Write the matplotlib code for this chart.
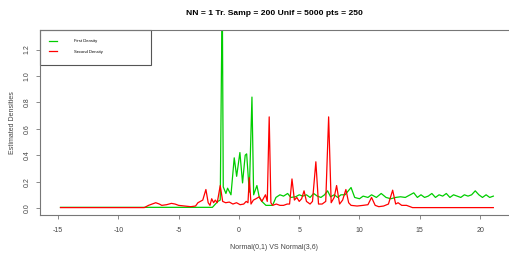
#Density comparison plot.

#Importing packages to use required functions.
import matplotlib
matplotlib.use("Agg")
import matplotlib.pyplot as plt
from matplotlib.patches import Rectangle

#Selecting the font to be used in the figure.
font = {'family': 'Liberation Sans',
        'weight': 'normal',
        'size': 5}
matplotlib.rc('font', **font)

#Points of the first density (green).
first_x = [-14.8, -2.2, -1.75, -1.55, -1.45, -1.38, -1.3, -1.08, -0.94, -0.66,
           -0.39, -0.19, 0.08, 0.3, 0.52, 0.64, 0.86, 0.94, 1.08, 1.22,
           1.49, 1.69, 1.9, 2.24, 2.79, 3.07, 3.4, 3.7, 4.04, 4.3,
           4.7, 5.0, 5.3, 5.6, 5.9, 6.2, 6.5, 6.8, 7.1, 7.35,
           7.6, 7.9, 8.2, 8.46, 8.8, 9.3, 9.6, 10.0, 10.3, 10.7,
           11.0, 11.4, 11.8, 12.2, 12.6, 13.0, 13.4, 13.8, 14.2, 14.5,
           14.8, 15.1, 15.4, 15.7, 16.0, 16.3, 16.6, 16.9, 17.2, 17.5,
           17.8, 18.1, 18.4, 18.7, 19.0, 19.3, 19.6, 19.9, 20.2, 20.5,
           20.8, 21.1]
first_y = [0.005, 0.005, 0.05, 0.06, 1.05, 1.6, 0.16, 0.11, 0.15, 0.10,
           0.38, 0.24, 0.42, 0.19, 0.40, 0.41, 0.12, 0.38, 0.84, 0.10,
           0.17, 0.08, 0.05, 0.02, 0.02, 0.08, 0.10, 0.09, 0.11, 0.08,
           0.085, 0.10, 0.09, 0.10, 0.08, 0.11, 0.09, 0.08, 0.10, 0.13,
           0.085, 0.10, 0.08, 0.10, 0.10, 0.155, 0.08, 0.07, 0.09, 0.08,
           0.10, 0.08, 0.11, 0.08, 0.07, 0.08, 0.085, 0.08, 0.10, 0.115,
           0.08, 0.10, 0.08, 0.09, 0.11, 0.08, 0.10, 0.09, 0.11, 0.08,
           0.10, 0.09, 0.08, 0.10, 0.09, 0.10, 0.13, 0.10, 0.08, 0.10,
           0.08, 0.09]

#Points of the second density (red).
second_x = [-14.8, -7.85, -7.5, -7.2, -6.9, -6.6, -6.4, -6.0, -5.6, -5.3,
            -5.0, -4.5, -4.0, -3.6, -3.4, -3.0, -2.74, -2.55, -2.4, -2.26,
            -2.1, -1.96, -1.8, -1.55, -1.35, -1.1, -0.8, -0.5, -0.2, 0.1,
            0.4, 0.6, 0.75, 0.86, 1.0, 1.2, 1.41, 1.69, 1.9, 2.2,
            2.35, 2.51, 2.65, 2.79, 3.1, 3.4, 3.7, 4.0, 4.2, 4.4,
            4.6, 4.8, 5.0, 5.2, 5.4, 5.6, 5.9, 6.1, 6.38, 6.6,
            6.9, 7.2, 7.44, 7.65, 7.9, 8.1, 8.35, 8.6, 8.87, 9.1,
            9.3, 9.8, 10.3, 10.7, 11.0, 11.3, 11.6, 12.0, 12.4, 12.75,
            13.0, 13.2, 13.5, 13.9, 14.4, 21.1]
second_y = [0.003, 0.003, 0.02, 0.03, 0.04, 0.03, 0.02, 0.025, 0.035, 0.03,
            0.02, 0.015, 0.01, 0.015, 0.04, 0.06, 0.14, 0.04, 0.02, 0.07,
            0.04, 0.06, 0.04, 0.17, 0.05, 0.04, 0.045, 0.03, 0.04, 0.025,
            0.03, 0.05, 0.04, 0.23, 0.03, 0.06, 0.07, 0.085, 0.05, 0.10,
            0.05, 0.69, 0.04, 0.02, 0.03, 0.02, 0.02, 0.03, 0.03, 0.22,
            0.06, 0.08, 0.05, 0.07, 0.13, 0.05, 0.03, 0.05, 0.35, 0.03,
            0.03, 0.05, 0.69, 0.04, 0.08, 0.17, 0.03, 0.06, 0.14, 0.04,
            0.02, 0.015, 0.02, 0.025, 0.08, 0.02, 0.01, 0.015, 0.03, 0.135,
            0.03, 0.04, 0.02, 0.02, 0.003, 0.003]

#Tick positions.
x_ticks = [-15, -10, -5, 0, 5, 10, 15, 20]
y_ticks = [0.0, 0.2, 0.4, 0.6, 0.8, 1.0, 1.2]

#Figure of 509x257 pixels.
fig = plt.figure(figsize=(5.09, 2.57), dpi=100)
ax = fig.add_axes([40/509, 1 - 215/257, 469/509, 185/257])

#Plotting both densities.
ax.plot(first_x, first_y, color="#00cd00", lw=0.9, label="First Density")
ax.plot(second_x, second_y, color="#ff0000", lw=0.9, label="Second Density")

ax.set_xlim(-16.5, 22.4)
ax.set_ylim(-0.053, 1.348)

#Axis styling like R base graphics.
for side in ["left", "top", "bottom"]:
    ax.spines[side].set_color("#777777")
    ax.spines[side].set_linewidth(0.8)
ax.spines["right"].set_visible(False)
ax.set_xticks(x_ticks)
ax.set_yticks(y_ticks)
ax.set_xticklabels([str(t) for t in x_ticks])
ax.set_yticklabels(["%.1f" % t for t in y_ticks], rotation=90, va="center")
ax.tick_params(direction="out", length=3, width=0.6, color="#777777",
               labelcolor="#444444", labelsize=5)
ax.tick_params(axis="x", pad=6)
ax.tick_params(axis="y", pad=4)

#Title and axis labels.
ax.set_title("NN = 1 Tr. Samp = 200 Unif = 5000 pts = 250",
             fontsize=6.1, fontweight="bold", pad=11)
ax.set_xlabel("Normal(0,1) VS Normal(3,6)", fontsize=5, color="#444444", labelpad=7)
ax.set_ylabel("Estimated Densities", fontsize=5, color="#444444", labelpad=5)

#Legend box in the top left corner.
ax.add_patch(Rectangle((0, 1 - 35/185), 111/469, 35/185, transform=ax.transAxes,
                       fill=False, ec="#555555", lw=0.8, clip_on=False))
ax.legend(loc="upper left", bbox_to_anchor=(0, 1), borderaxespad=0, frameon=False,
          fontsize=3, borderpad=2.2, labelspacing=1.6, handlelength=1.9,
          handletextpad=4)

#Figure saved.
fig.savefig("out.png", dpi=100)
